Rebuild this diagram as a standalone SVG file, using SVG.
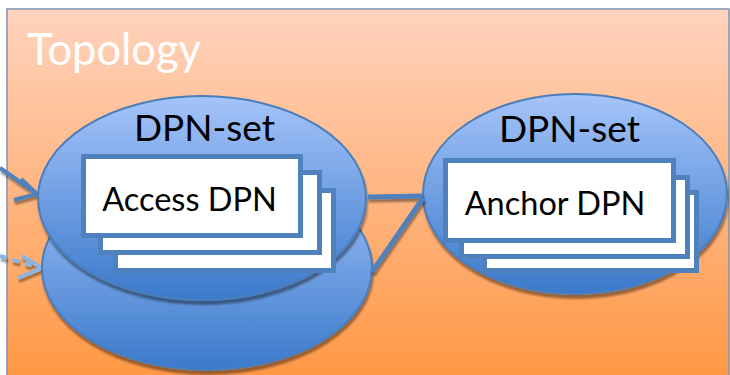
<svg xmlns="http://www.w3.org/2000/svg" width="730" height="375" viewBox="0 0 730 375">
<defs>
<linearGradient id="bg" x1="0" y1="0" x2="0" y2="1">
<stop offset="0" stop-color="#FFD3BE"/>
<stop offset="1" stop-color="#FF9844"/>
</linearGradient>
<linearGradient id="blue" x1="0" y1="0" x2="0" y2="1">
<stop offset="0" stop-color="#A5C4FA"/>
<stop offset="1" stop-color="#3B7ACB"/>
</linearGradient>
<filter id="sh" x="-10%" y="-10%" width="120%" height="130%">
<feDropShadow dx="1" dy="4" stdDeviation="1.2" flood-color="#000" flood-opacity="0.4"/>
</filter>
<filter id="shl" filterUnits="userSpaceOnUse" x="0" y="0" width="730" height="375">
<feDropShadow dx="1" dy="3" stdDeviation="0.8" flood-color="#000" flood-opacity="0.4"/>
</filter>
<style>
.set{fill:url(#blue);stroke:#4A7EBB;stroke-width:2;filter:url(#sh)}
.card{fill:#fff;stroke:#4F81BD;stroke-width:5}
.lbl{font-family:Lato,"Liberation Sans",sans-serif;fill:#000;text-anchor:middle}
.con{stroke:#4F81BD;stroke-width:5;fill:none;filter:url(#shl)}
.arr{stroke-width:4;fill:none;filter:url(#shl)}
</style>
</defs>
<rect x="7" y="9" width="722" height="370" fill="url(#bg)" stroke="#8093AE" stroke-width="1.5"/>
<text x="27" y="65" font-family="Lato,'Liberation Sans',sans-serif" font-size="43.5" fill="#fff">Topology</text>

<g id="arrows-in">
<g class="arr" stroke="#4F81BD">
<path d="M0 168 L36 193"/>
<path d="M21 179 L37 194 L14 200"/>
</g>
<g class="arr" stroke="#8EB4E3">
<path d="M0 256 L41 268" stroke-dasharray="7 6"/>
<path d="M22 256 L42 268 L18 278"/>
</g>
</g>

<g id="access-set-back">
<ellipse class="set" cx="207" cy="268" rx="165" ry="102"/>
</g>
<g id="access-set">
<ellipse class="set" cx="202" cy="198" rx="164" ry="102"/>
<text class="lbl" x="204.5" y="141" font-size="37">DPN-set</text>
</g>
<g id="access-dpn">
<rect class="card" x="115.5" y="190.5" width="218" height="80"/>
<rect class="card" x="100.5" y="172.5" width="219" height="80"/>
<rect class="card" x="83.5" y="156.5" width="217" height="79"/>
<text class="lbl" x="189.5" y="211" font-size="32.5">Access DPN</text>
</g>

<g id="anchor-set">
<ellipse class="set" cx="575" cy="194" rx="152" ry="100"/>
<text class="lbl" x="569.5" y="142" font-size="37">DPN-set</text>
</g>
<g id="anchor-dpn">
<rect class="card" x="484.5" y="192.5" width="212" height="78"/>
<rect class="card" x="461.5" y="177.5" width="226" height="79"/>
<rect class="card" x="445.5" y="160.5" width="228" height="80"/>
<text class="lbl" x="555" y="215" font-size="32.5">Anchor DPN</text>
</g>

<g id="connectors">
<path class="con" d="M368 197 L423 196"/>
<path class="con" d="M423 198 L372 272"/>
</g>
</svg>
